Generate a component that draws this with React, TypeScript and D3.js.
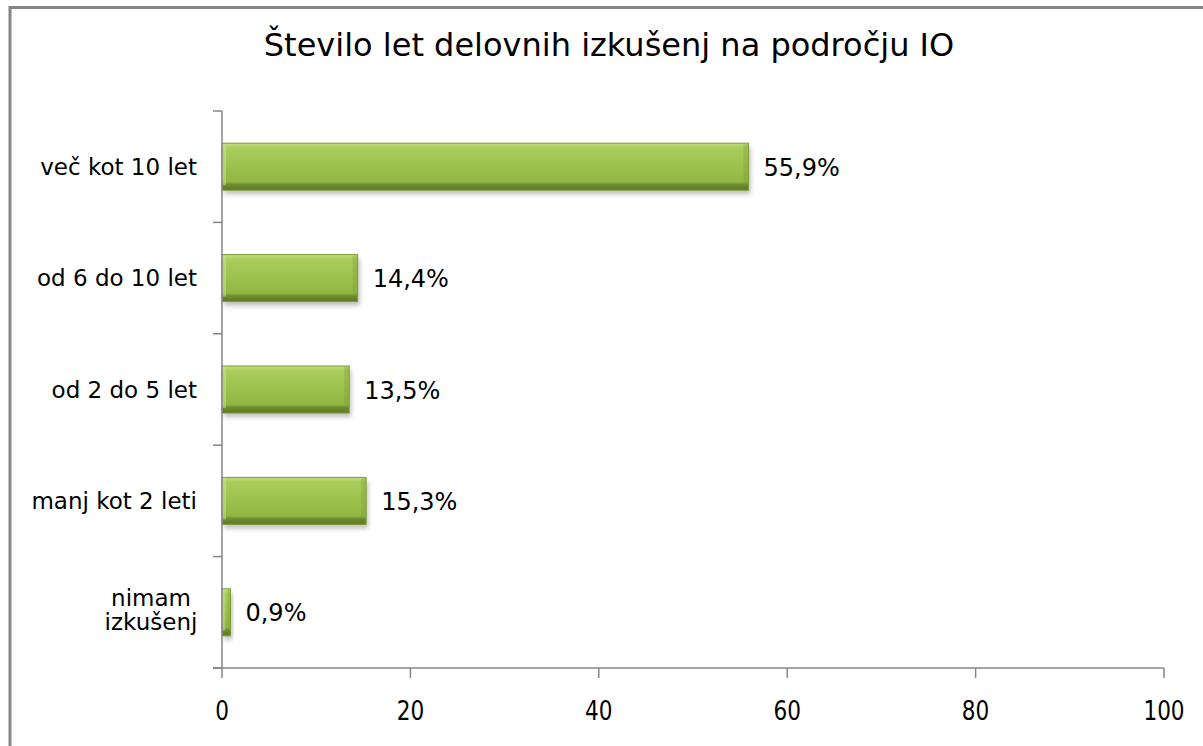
import * as d3 from "d3";

// chart data
const categories = ["več kot 10 let", "od 6 do 10 let", "od 2 do 5 let", "manj kot 2 leti", "nimam izkušenj"];
const values = [55.9, 14.4, 13.5, 15.3, 0.9];
const valueLabels = ["55,9%", "14,4%", "13,5%", "15,3%", "0,9%"];
const xTicks = [0, 20, 40, 60, 80, 100];
const title = "Število let delovnih izkušenj na področju IO";

const W = 1203;
const H = 746;
const font = "Verdana, 'DejaVu Sans', sans-serif";
const axisCol = "#868686";

export default function App() {
     const x = d3.scaleLinear().domain([0, 100]).range([222, 1164]);
     const y = d3.scaleBand<string>()
          .domain(categories)
          .range([111, 668])
          .paddingInner(0.578)
          .paddingOuter(0.289);
     const step = y.step();
     const bw = y.bandwidth();
     // band boundaries for the little ticks on the category axis
     const bounds = d3.range(categories.length + 1).map(i => 111 + i * step);

     return (
          <div style={{ position: "absolute", left: 0, top: 0 }}>
               <svg width={W} height={H} style={{ display: "block", background: "#fff" }}>
                    <defs>
                         <linearGradient id="barG" x1="0" y1="0" x2="0" y2="1">
                              <stop offset="0%" stopColor="#c4de80" />
                              <stop offset="10%" stopColor="#aacd5c" />
                              <stop offset="50%" stopColor="#9cc14c" />
                              <stop offset="82%" stopColor="#92b644" />
                              <stop offset="88%" stopColor="#6f8c2e" />
                              <stop offset="100%" stopColor="#5c7724" />
                         </linearGradient>
                         <filter id="shadow" x="-10%" y="-50%" width="120%" height="200%">
                              <feGaussianBlur stdDeviation="2.5" />
                         </filter>
                    </defs>

                    {/* outer chart border */}
                    <rect x={10} y={7.5} width={W + 20} height={H + 20} fill="none" stroke={axisCol} strokeWidth={3} />

                    <text x={609} y={56} textAnchor="middle" fontFamily={font} fontSize={32} fill="#000">
                         {title}
                    </text>

                    {/* bars */}
                    {categories.map((c, i) => {
                         const y0 = y(c)!;
                         const x1 = x(values[i]);
                         const w = x1 - x(0);
                         return (
                              <g key={c}>
                                   <rect x={x(0) + 2} y={y0 + 4} width={w} height={bw} fill="#000" opacity={0.25} filter="url(#shadow)" />
                                   <rect x={x(0)} y={y0} width={w} height={bw} fill="url(#barG)" stroke="#7d9b38" strokeWidth={1} />
                                   <rect x={x1 - Math.min(5, w / 3)} y={y0 + 1} width={Math.min(5, w / 3)} height={bw - 6} fill="#7f9e36" opacity={0.35} />
                                   <rect x={x(0)} y={y0 + 1} width={Math.min(4, w / 3)} height={bw - 6} fill="#d4e99a" opacity={0.45} />
                                   <text x={x1 + 15} y={y0 + bw / 2 + 9} fontFamily={font} fontSize={24} fill="#000">
                                        {valueLabels[i]}
                                   </text>
                              </g>
                         );
                    })}

                    {/* category axis */}
                    <line x1={x(0)} x2={x(0)} y1={111} y2={668} stroke={axisCol} strokeWidth={1.5} />
                    {bounds.map(b => (
                         <line key={b} x1={x(0) - 9} x2={x(0)} y1={b} y2={b} stroke={axisCol} strokeWidth={1.5} />
                    ))}
                    {categories.map(c => {
                         const cy = y(c)! + bw / 2;
                         const parts = c === "nimam izkušenj" ? ["nimam", "izkušenj"] : [c];
                         if (parts.length > 1) {
                              return (
                                   <text key={c} fontFamily={font} fontSize={23} textAnchor="middle" fill="#000">
                                        <tspan x={151} y={cy - 6}>{parts[0]}</tspan>
                                        <tspan x={151} y={cy + 18}>{parts[1]}</tspan>
                                   </text>
                              );
                         }
                         return (
                              <text key={c} x={197} y={cy + 8} fontFamily={font} fontSize={23} textAnchor="end" fill="#000">
                                   {c}
                              </text>
                         );
                    })}

                    {/* value axis */}
                    <line x1={x(0) - 9} x2={x(100)} y1={668} y2={668} stroke={axisCol} strokeWidth={1.5} />
                    {xTicks.map(t => (
                         <g key={t} transform={`translate(${x(t)},0)`}>
                              <line x1={0} x2={0} y1={668} y2={678} stroke={axisCol} strokeWidth={1.5} />
                              <text transform="translate(0,720) scale(0.8,1)" textAnchor="middle" fontFamily={font} fontSize={27} fill="#000">
                                   {t}
                              </text>
                         </g>
                    ))}
               </svg>
          </div>
     );
}
